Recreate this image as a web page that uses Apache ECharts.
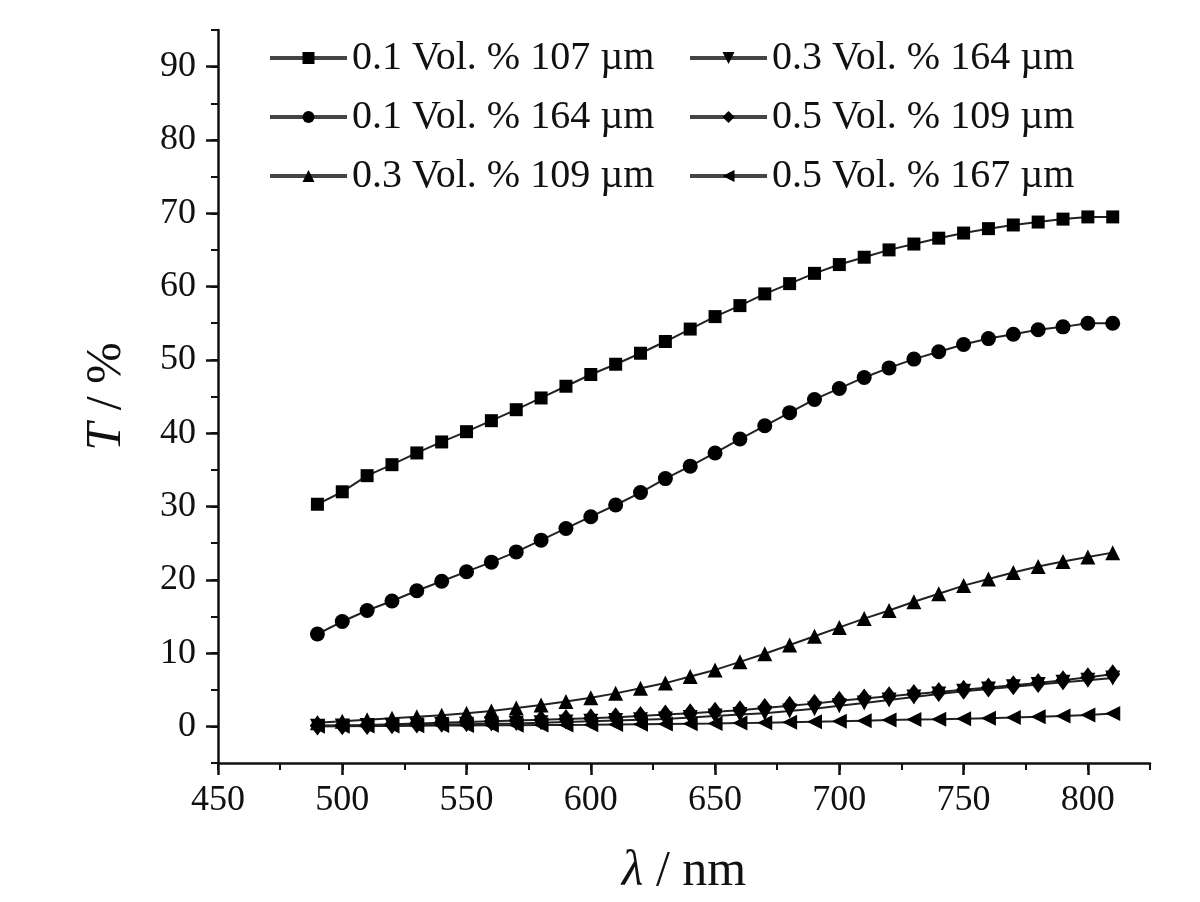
<!DOCTYPE html>
<html>
<head>
<meta charset="utf-8">
<script src="https://cdn.jsdelivr.net/npm/echarts@6/dist/echarts.min.js"></script>
<style>html,body{margin:0;padding:0;background:#fff}#c{width:1200px;height:902px}</style>
</head>
<body>
<div id="c"></div>
<script>
const wavelengths = [490,500,510,520,530,540,550,560,570,580,590,600,610,620,630,640,650,660,670,680,690,700,710,720,730,740,750,760,770,780,790,800,810];
const s01_107 = [30.3,32.0,34.2,35.7,37.3,38.8,40.2,41.7,43.2,44.8,46.4,48.0,49.4,50.9,52.5,54.2,55.9,57.4,59.0,60.4,61.8,63.0,64.0,65.0,65.8,66.6,67.3,67.9,68.4,68.8,69.2,69.5,69.5];
const s01_164 = [12.6,14.3,15.8,17.1,18.5,19.8,21.1,22.4,23.8,25.4,27.0,28.6,30.2,31.9,33.8,35.5,37.3,39.2,41.0,42.8,44.6,46.1,47.6,48.9,50.1,51.1,52.1,52.9,53.5,54.1,54.5,55.0,55.0];
const s03_109 = [0.5,0.7,0.9,1.1,1.3,1.5,1.8,2.1,2.5,2.9,3.4,3.9,4.5,5.2,5.9,6.8,7.7,8.8,9.9,11.1,12.3,13.5,14.7,15.8,17.0,18.1,19.2,20.1,21.0,21.8,22.5,23.1,23.7];
const s03_164 = [0.0,0.05,0.1,0.15,0.2,0.25,0.3,0.35,0.4,0.5,0.6,0.7,0.8,0.9,1.0,1.2,1.4,1.6,1.8,2.1,2.4,2.8,3.2,3.6,4.0,4.4,4.8,5.1,5.4,5.7,6.0,6.3,6.6];
const s05_109 = [0.1,0.15,0.2,0.3,0.4,0.5,0.6,0.7,0.8,0.9,1.0,1.1,1.25,1.4,1.6,1.8,2.0,2.2,2.5,2.8,3.1,3.5,3.8,4.1,4.4,4.7,5.0,5.3,5.6,5.9,6.3,6.7,7.1];
const s05_167 = [0.0,0.02,0.04,0.06,0.08,0.1,0.12,0.14,0.16,0.18,0.2,0.22,0.25,0.28,0.31,0.35,0.39,0.44,0.5,0.56,0.63,0.7,0.78,0.85,0.92,0.98,1.05,1.12,1.2,1.3,1.4,1.55,1.75];
const seriesNames = ['0.1 Vol. % 107 µm','0.1 Vol. % 164 µm','0.3 Vol. % 109 µm','0.3 Vol. % 164 µm','0.5 Vol. % 109 µm','0.5 Vol. % 167 µm'];
const xMajorTicks = [450,500,550,600,650,700,750,800];
const xMinorTicks = [450,475,500,525,550,575,600,625,650,675,700,725,750,775,800,825];
const yMajorTicks = [0,10,20,30,40,50,60,70,80,90];
const yMinorTicks = [-5,0,5,10,15,20,25,30,35,40,45,50,55,60,65,70,75,80,85,90,95];

const FONT = 'Liberation Serif';
const allData = [s01_107, s01_164, s03_109, s03_164, s05_109, s05_167];
const symbols = [
  {symbol:'rect', size:13, rot:0},
  {symbol:'circle', size:15, rot:0},
  {symbol:'triangle', size:15, rot:0},
  {symbol:'triangle', size:15, rot:180},
  {symbol:'diamond', size:[15,20], rot:0},
  {symbol:'triangle', size:15, rot:90}
];

const series = allData.map((arr, i) => ({
  name: seriesNames[i],
  type: 'line',
  xAxisIndex: 0,
  yAxisIndex: 0,
  data: wavelengths.map((w, k) => [w, arr[k]]),
  symbol: symbols[i].symbol,
  symbolSize: symbols[i].size,
  symbolRotate: symbols[i].rot,
  showSymbol: true,
  lineStyle: {color: '#222', width: 2},
  itemStyle: {color: '#000', borderWidth: 0},
  emphasis: {disabled: true},
  animation: false
}));

const legendCommon = {
  orient: 'vertical',
  itemWidth: 77,
  itemHeight: 15,
  itemGap: 19,
  itemStyle: {borderWidth: 0},
  lineStyle: {width: 4, color: '#444'},
  textStyle: {fontFamily: FONT, fontSize: 40, color: '#111', padding: [0,0,0,0]},
  selectedMode: false
};

const chart = echarts.init(document.getElementById('c'), null, {renderer: 'canvas'});
chart.setOption({
  backgroundColor: '#fff',
  animation: false,
  grid: {left: 218, right: 50, top: 30, bottom: 139, containLabel: false, outerBoundsMode: 'none'},
  legend: [
    Object.assign({}, legendCommon, {left: 263, top: 33, data: seriesNames.slice(0,3)}),
    Object.assign({}, legendCommon, {left: 683, top: 33, data: seriesNames.slice(3,6)})
  ],
  xAxis: [
    {
      type: 'value', min: 450, max: 825, position: 'bottom',
      axisLine: {show: true, onZero: false, lineStyle: {color: '#111', width: 2.5}},
      axisTick: {show: true, customValues: xMinorTicks, length: 7, lineStyle: {color: '#111', width: 2}},
      axisLabel: {show: false},
      splitLine: {show: false}
    },
    {
      type: 'value', min: 450, max: 825, position: 'bottom',
      axisLine: {show: false, onZero: false},
      axisTick: {show: true, customValues: xMajorTicks, length: 12, lineStyle: {color: '#111', width: 2.5}},
      axisLabel: {show: true, customValues: xMajorTicks, fontFamily: FONT, fontSize: 36, color: '#111', margin: 20},
      splitLine: {show: false},
      name: '{i|λ} / nm',
      nameLocation: 'middle',
      nameGap: 84,
      nameTextStyle: {fontFamily: FONT, fontSize: 50, color: '#111',
        rich: {i: {fontFamily: FONT, fontStyle: 'italic', fontSize: 50, color: '#111'}}}
    }
  ],
  yAxis: [
    {
      type: 'value', min: -5, max: 95, position: 'left',
      axisLine: {show: true, onZero: false, lineStyle: {color: '#111', width: 2.5}},
      axisTick: {show: true, customValues: yMinorTicks, length: 7, lineStyle: {color: '#111', width: 2}},
      axisLabel: {show: false},
      splitLine: {show: false}
    },
    {
      type: 'value', min: -5, max: 95, position: 'left',
      axisLine: {show: false, onZero: false},
      axisTick: {show: true, customValues: yMajorTicks, length: 12, lineStyle: {color: '#111', width: 2.5}},
      axisLabel: {show: true, customValues: yMajorTicks, fontFamily: FONT, fontSize: 36, color: '#111', margin: 22},
      splitLine: {show: false},
      name: '{i|T} / %',
      nameLocation: 'middle',
      nameGap: 86,
      nameTextStyle: {fontFamily: FONT, fontSize: 50, color: '#111',
        rich: {i: {fontFamily: FONT, fontStyle: 'italic', fontSize: 50, color: '#111'}}}
    }
  ],
  series: series
});
</script>
</body>
</html>
